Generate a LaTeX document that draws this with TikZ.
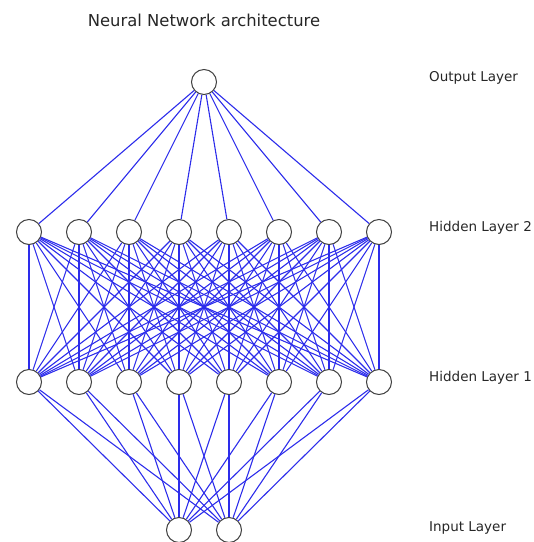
\documentclass[tikz,border=0pt]{standalone}
\usepackage{fontspec}
\setmainfont{DejaVu Sans}
\usetikzlibrary{positioning,calc}
\definecolor{edgeblue}{RGB}{45,45,235}

\begin{document}
\begin{tikzpicture}[
    x=1pt, y=-1pt,
    neuron/.style={circle, draw=black!75, fill=white, line width=1pt, minimum size=25pt, inner sep=0pt},
    link/.style={draw=edgeblue, line width=1.1pt},
    layerlabel/.style={anchor=west, inner sep=0pt, font=\fontsize{13.5}{16}\selectfont, text=black!85}
]
\useasboundingbox (0,0) rectangle (534,542);

% Title
\node[font=\fontsize{16.4}{19}\selectfont, text=black!85] (title) at (204,20) {Neural Network architecture};

% Define node positions
\node[neuron] (out) at (204,82) {};
\foreach \i in {1,...,8} {
  \node[neuron] (h2-\i) at ({29+50*(\i-1)},232) {};
  \node[neuron] (h1-\i) at ({29+50*(\i-1)},382) {};
}
\node[neuron] (in-1) at (179,530) {};
\node[neuron] (in-2) at (229,530) {};

% Layer labels
\node[layerlabel] (lout) at (429,78) {Output Layer};
\node[layerlabel] (lh2) at (429,228) {Hidden Layer 2};
\node[layerlabel] (lh1) at (429,378) {Hidden Layer 1};
\node[layerlabel] (lin) at (429,528) {Input Layer};

% Draw connections
\foreach \i in {1,...,8} {
  \draw[link] (out) -- (h2-\i);
  \draw[link] (in-1) -- (h1-\i);
  \draw[link] (in-2) -- (h1-\i);
  \foreach \j in {1,...,8}
    \draw[link] (h1-\i) -- (h2-\j);
}

\end{tikzpicture}
\end{document}
